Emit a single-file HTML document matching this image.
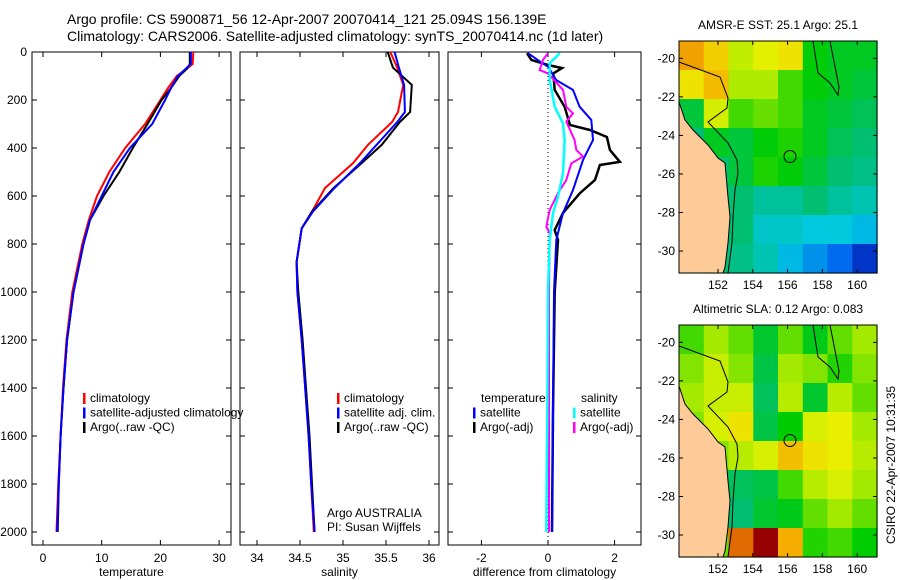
<!DOCTYPE html>
<html><head><meta charset="utf-8">
<style>
html,body{margin:0;padding:0;background:#fff;}
svg{display:block;font-family:"Liberation Sans",Arial,sans-serif;}
text{fill:#000;}
</style></head>
<body>
<svg id="c" width="900" height="580" viewBox="0 0 900 580">
<text x="67" y="24" font-size="14">Argo profile: CS 5900871_56 12-Apr-2007 20070414_121 25.094S 156.139E</text>
<text x="67" y="41" font-size="14">Climatology: CARS2006. Satellite-adjusted climatology: synTS_20070414.nc (1d later)</text>
<g id="g"></g>
</svg>
<script>
// ---------- Temperature panel data ----------
const tDepth = [0,50,70,100,150,200,300,400,500,600,700,800,1000,1200,1400,1600,1800,2000];
const tClim  = [25.6,25.5,24.5,22.8,21.3,20.0,17.4,14.0,11.3,9.2,7.8,6.7,5.0,4.0,3.4,3.0,2.6,2.3];
const tSat   = [25.2,25.2,24.3,23.0,21.8,20.8,18.6,14.8,12.0,10.0,8.0,6.9,5.2,4.1,3.5,3.0,2.7,2.4];
const tArgo  = [25.0,25.0,24.5,23.2,21.8,20.2,17.8,15.3,13.0,10.3,8.0,6.9,5.2,4.1,3.5,3.0,2.7,2.5];
const tTicks = [0,10,20,30];
// ---------- Salinity panel data ----------
const sDepth = [0,65,137,250,292,387,462,567,665,735,875,1000,1200,1400,1600,1800,2000];
const sClim  = [35.55,35.63,35.70,35.64,35.57,35.29,35.12,34.79,34.64,34.52,34.46,34.47,34.52,34.56,34.60,34.63,34.66];
const sSat   = [35.60,35.65,35.71,35.72,35.63,35.39,35.20,34.90,34.65,34.52,34.46,34.47,34.52,34.56,34.60,34.63,34.67];
const sArgo  = [35.52,35.58,35.80,35.78,35.66,35.45,35.22,34.89,34.64,34.52,34.46,34.48,34.53,34.57,34.61,34.64,34.67];
const sTicks = [34,34.5,35,35.5,36];
// ---------- Difference panel data ----------
const dTArgoDepth = [5,33,54,67,89,158,228,304,325,354,408,458,471,533,588,671,742,783,1000,1500,2000];
const dTArgo      = [-0.63,-0.5,0,0.42,0.16,0.2,0.5,0.66,1.26,1.77,1.86,2.16,1.56,1.41,0.96,0.45,0.2,0.3,0.2,0.15,0.12];
const dTSatDepth  = [5,40,61,117,158,228,283,367,450,575,671,783,1000,1500,2000];
const dTSat       = [-0.6,-0.24,0,0.25,0.75,0.95,1.3,1.35,1.05,0.75,0.45,0.25,0.18,0.15,0.12];
const dSArgoDepth = [5,33,75,89,158,228,256,290,367,408,436,464,533,588,658,728,756,1000,1500,2000];
const dSArgo      = [0,-0.15,-0.25,0,0.45,0.55,0.75,0.55,0.8,0.85,1.05,0.7,0.55,0.3,0.05,-0.05,0.05,0.03,0.03,0.03];
const dSSatDepth  = [5,47,117,228,297,367,506,603,671,783,1000,1500,2000];
const dSSat       = [0.35,0.05,0.05,0.2,0.45,0.5,0.45,0.3,0.15,0.05,0.0,-0.02,-0.05];
const dTicks = [-2,0,2];
const depthTicks = [0,200,400,600,800,1000,1200,1400,1600,1800,2000];
// ---------- Map data (rows north->south, cols west->east) ----------
const mapLonTicks = [152,154,156,158,160];
const mapLatTicks = [-20,-22,-24,-26,-28,-30];
const sstGrid = [
 [26.6,26.4,26.0,26.2,26.3,25.4,25.3,25.3],
 [26.3,26.5,25.9,25.9,25.6,25.4,25.3,25.2],
 [25.2,26.1,25.6,25.7,25.6,25.3,25.2,25.1],
 [25.0,25.3,25.2,25.4,25.5,25.3,25.1,25.0],
 [24.9,25.0,25.2,25.5,25.4,25.2,25.0,24.9],
 [24.8,25.0,25.0,24.8,24.8,25.0,24.8,24.7],
 [24.8,24.9,25.0,24.6,24.6,24.5,24.5,24.4],
 [24.8,25.0,24.9,24.7,24.4,24.2,24.0,23.6]];
const slaGrid = [
 [0.02,0.05,0.03,-0.02,0.03,-0.01,0.03,0.05],
 [0.04,0.07,0.04,-0.03,0.05,0.04,0.01,0.04],
 [0.05,0.07,0.07,-0.04,0.06,-0.02,0.06,0.03],
 [0.04,0.08,0.10,-0.03,0.00,0.08,0.09,0.05],
 [0.00,0.04,0.06,0.08,0.12,0.10,0.09,0.06],
 [0.00,-0.03,-0.04,-0.03,0.02,0.06,0.08,0.05],
 [0.00,0.00,-0.05,-0.02,-0.01,0.03,0.05,0.03],
 [0.00,0.03,0.15,0.27,0.13,0.01,0.02,0.00]];
const argoLon = 156.139, argoLat = -25.094;

const NS="http://www.w3.org/2000/svg";
const G=document.getElementById('g');
function el(tag,attrs,parent){const e=document.createElementNS(NS,tag);for(const k in attrs)e.setAttribute(k,attrs[k]);(parent||G).appendChild(e);return e;}
const Y=d=>52+d*0.24;

function panel(name,x0,x1,xs,ticks,fmt,label,leftLabels){
  const g=el('g',{});
  
  
  el('rect',{x:x0,y:52,width:x1-x0,height:493,fill:'none',stroke:'#000','stroke-width':1},g);
  ticks.forEach(v=>{const x=xs(v);
    el('line',{x1:x,x2:x,y1:52,y2:57,stroke:'#000'},g);
    el('line',{x1:x,x2:x,y1:545,y2:540,stroke:'#000'},g);
    const t=el('text',{x:x,y:562,'font-size':12,'text-anchor':'middle'},g);t.textContent=fmt(v);
    
    
  });
  depthTicks.forEach(d=>{const y=Y(d);
    el('line',{x1:x0,x2:x0+5,y1:y,y2:y,stroke:'#000'},g);
    el('line',{x1:x1,x2:x1-5,y1:y,y2:y,stroke:'#000'},g);
    if(leftLabels){const t=el('text',{x:27,y:y+4,'font-size':12,'text-anchor':'end'},g);t.textContent=d;
      
      }
  });
  const t=el('text',{x:(x0+x1)/2,y:576,'font-size':12,'text-anchor':'middle'},g);t.textContent=label;
  
  
  return g;
}
function line(g,depths,vals,xs,color,w,name){
  const d=depths.map((dd,i)=>(i?'L':'M')+xs(vals[i]).toFixed(1)+','+Y(dd).toFixed(1)).join('');
  const p=el('path',{d:d,fill:'none',stroke:color,'stroke-width':w,'stroke-linejoin':'miter'},g);
  
  
}
function legend(g,x,y,items){
  items.forEach((it,i)=>{
    el('rect',{x:x,y:y+i*14.5-9,width:2.5,height:11,fill:it[0]},g);
    const t=el('text',{x:x+7,y:y+i*14.5,'font-size':12},g);t.textContent=it[1];
    
    
  });
}
// Panel 1
const xT=v=>43+v*5.87;
const p1=panel('temperature-panel',32,231,xT,tTicks,v=>v,'temperature',true);
line(p1,tDepth,tClim,xT,'#f00',2,'temperature-climatology-line');
line(p1,tDepth,tArgo,xT,'#000',2,'temperature-argo-line');
line(p1,tDepth,tSat,xT,'#00f',2,'temperature-satellite-line');
legend(p1,83,402,[['#f00','climatology'],['#00f','satellite-adjusted climatology'],['#000','Argo(..raw -QC)']]);
// Panel 2
const xS=v=>257+(v-34)*86;
const p2=panel('salinity-panel',240,439,xS,sTicks,v=>v,'salinity',false);
line(p2,sDepth,sClim,xS,'#f00',2,'salinity-climatology-line');
line(p2,sDepth,sArgo,xS,'#000',2,'salinity-argo-line');
line(p2,sDepth,sSat,xS,'#00f',2,'salinity-satellite-line');
legend(p2,337,402,[['#f00','climatology'],['#00f','satellite adj. clim.'],['#000','Argo(..raw -QC)']]);
let t=el('text',{x:327,y:517,'font-size':12},p2);t.textContent='Argo AUSTRALIA';


t=el('text',{x:327,y:531,'font-size':12},p2);t.textContent='PI: Susan Wijffels';


// Panel 3
const xD=v=>548+v*33.3;
const p3=panel('difference-panel',448,641,xD,dTicks,v=>v,'difference from climatology',false);
el('line',{x1:xD(0),x2:xD(0),y1:52,y2:545,stroke:'#000','stroke-dasharray':'1,3'},p3);
line(p3,dTArgoDepth,dTArgo,xD,'#000',2.5,'temp-argo-diff-line');
line(p3,dTSatDepth,dTSat,xD,'#00f',2,'temp-satellite-diff-line');
line(p3,dSArgoDepth,dSArgo,xD,'#f0f',2,'salinity-argo-diff-line');
line(p3,dSSatDepth,dSSat,xD,'#0ff',2.5,'salinity-satellite-diff-line');
t=el('text',{x:481,y:402,'font-size':12},p3);t.textContent='temperature';


t=el('text',{x:581,y:402,'font-size':12},p3);t.textContent='salinity';


legend(p3,473,416.5,[['#00f','satellite'],['#000','Argo(-adj)']]);
legend(p3,573,416.5,[['#0ff','satellite'],['#f0f','Argo(-adj)']]);

// ---------- Maps ----------
const cmStops=[[0,[0,40,190]],[0.15,[0,110,240]],[0.28,[0,200,225]],[0.42,[0,190,120]],[0.55,[0,205,0]],[0.68,[170,235,0]],[0.78,[235,240,0]],[0.88,[245,170,0]],[0.95,[210,70,0]],[1,[150,0,0]]];
function cmap(t){t=Math.max(0,Math.min(1,t));
  for(let i=1;i<cmStops.length;i++){if(t<=cmStops[i][0]){const a=cmStops[i-1],b=cmStops[i];const f=(t-a[0])/(b[0]-a[0]);
    return 'rgb('+a[1].map((c,k)=>Math.round(c+(b[1][k]-c)*f)).join(',')+')';}}
  return 'rgb(150,0,0)';}
const LON0=149.76,LON1=161.14,LAT0=-19.1,LAT1=-31.14;
const land=[[679,102],[685,120],[693,130],[708,145],[718,158],[725,163],[728,197],[730,217],[728,243],[725,267],[723,273],[679,273]];
const shelf=[[679,62],[720,77],[728,98],[727,108],[708,122],[728,143],[737,160],[738,173],[735,190],[733,217],[732,243],[728,273]];
const reef=[[813,41],[818,73],[830,83],[838,95],[839,87],[830,41]];
function map(name,top,grid,vmin,vmax,title){
  const g=el('g',{});
  
  
  const x0=679,x1=877,y0=top,y1=top+232;
  const lx=v=>x0+(v-LON0)/(LON1-LON0)*(x1-x0);
  const ly=v=>y0+(v-LAT0)/(LAT1-LAT0)*(y1-y0);
  const nr=grid.length,nc=grid[0].length;
  const cw=(x1-x0)/nc,ch=(y1-y0)/nr;
  grid.forEach((row,i)=>row.forEach((v,j)=>{
    const r=el('rect',{x:(x0+j*cw).toFixed(1),y:(y0+i*ch).toFixed(1),width:(cw+0.6).toFixed(1),height:(ch+0.6).toFixed(1),fill:cmap((v-vmin)/(vmax-vmin))},g);
    
    
  }));
  const dy=top-41;
  el('polygon',{points:land.map(p=>p[0]+','+(p[1]+dy)).join(' '),fill:'#fdca98',stroke:'#000','stroke-width':1},g);
  el('polyline',{points:shelf.map(p=>p[0]+','+(p[1]+dy)).join(' '),fill:'none',stroke:'#000','stroke-width':1},g);
  el('polyline',{points:reef.map(p=>p[0]+','+(p[1]+dy)).join(' '),fill:'none',stroke:'#000','stroke-width':1},g);
  el('circle',{cx:lx(argoLon),cy:ly(argoLat),r:6,fill:'none',stroke:'#000'},g);
  el('rect',{x:x0,y:y0,width:x1-x0,height:y1-y0,fill:'none',stroke:'#000'},g);
  mapLonTicks.forEach(v=>{const x=lx(v);
    el('line',{x1:x,x2:x,y1:y1,y2:y1-4,stroke:'#000'},g);
    el('line',{x1:x,x2:x,y1:y0,y2:y0+4,stroke:'#000'},g);
    const t=el('text',{x:x,y:y1+16,'font-size':12,'text-anchor':'middle'},g);t.textContent=v;
    
    });
  mapLatTicks.forEach(v=>{const y=ly(v);
    el('line',{x1:x0,x2:x0+4,y1:y,y2:y,stroke:'#000'},g);
    el('line',{x1:x1,x2:x1-4,y1:y,y2:y,stroke:'#000'},g);
    const t=el('text',{x:x0-4,y:y+4,'font-size':12,'text-anchor':'end'},g);t.textContent=v;
    
    });
  const tt=el('text',{x:(x0+x1)/2,y:top-12,'font-size':12,'text-anchor':'middle'},g);tt.textContent=title;
  
  
}
map('sst-map',41,sstGrid,23.5,27,'AMSR-E SST: 25.1 Argo: 25.1');
map('sla-map',325,slaGrid,-0.22,0.18,'Altimetric SLA: 0.12 Argo: 0.083');
t=el('text',{x:0,y:0,'font-size':12,'text-anchor':'middle',transform:'translate(895,465) rotate(-90)'});
t.textContent='CSIRO 22-Apr-2007 10:31:35';


</script>
</body></html>
